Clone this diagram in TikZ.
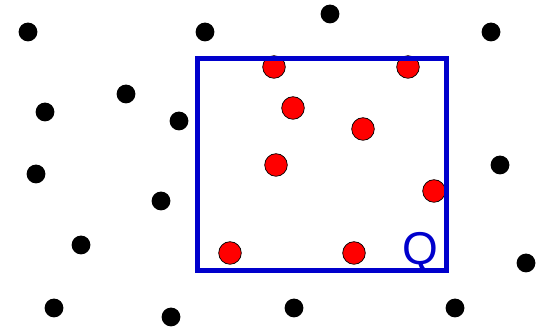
\documentclass[tikz,border=0pt]{standalone}
\usepackage{fontspec}
\setmainfont{Liberation Sans}
\definecolor{qblue}{RGB}{0,0,204}
\begin{document}
\begin{tikzpicture}[x=1pt,y=1pt,
  blackdot/.style={circle,fill=black,inner sep=0pt,minimum size=18.8pt},
  reddot/.style={circle,fill=red,draw=black,line width=0.7pt,inner sep=0pt,minimum size=22.6pt},
  region/.style={draw=qblue,line width=5pt},
  qlabel/.style={text=qblue,font=\fontsize{46}{46}\selectfont,inner sep=0pt,anchor=base}]
\useasboundingbox (0,0) rectangle (544,328);
% black points (outside)
\node[blackdot] (b1) at (28,296) {};
\node[blackdot] (b2) at (205,296) {};
\node[blackdot] (b3) at (330,314) {};
\node[blackdot] (b4) at (491,296) {};
\node[blackdot] (b5) at (45,216) {};
\node[blackdot] (b6) at (126,234) {};
\node[blackdot] (b7) at (179,207) {};
\node[blackdot] (b8) at (36,154) {};
\node[blackdot] (b9) at (161,127) {};
\node[blackdot] (b10) at (500,163) {};
\node[blackdot] (b11) at (81,83) {};
\node[blackdot] (b12) at (526,65) {};
\node[blackdot] (b13) at (54,20) {};
\node[blackdot] (b14) at (171,11) {};
\node[blackdot] (b15) at (294,20) {};
\node[blackdot] (b16) at (455,20) {};
% red points (inside Q)
\node[reddot] (r1) at (274,261) {};
\node[reddot] (r2) at (408,261) {};
\node[reddot] (r3) at (293,220) {};
\node[reddot] (r4) at (363,199) {};
\node[reddot] (r5) at (276,163) {};
\node[reddot] (r6) at (434,137) {};
\node[reddot] (r7) at (230,75) {};
\node[reddot] (r8) at (354,75) {};
% query rectangle
\draw[region] (197,269) rectangle (446,57.5);
\node[qlabel] (q) at (420,63) {Q};
\end{tikzpicture}
\end{document}
